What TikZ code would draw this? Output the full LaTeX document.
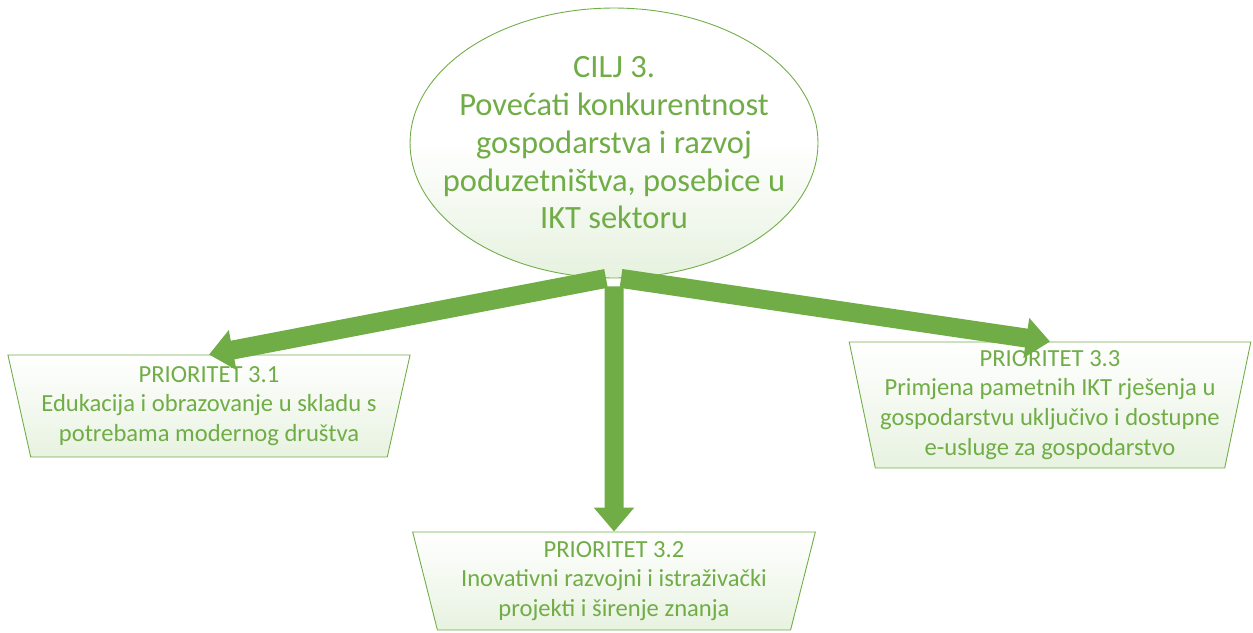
\documentclass[tikz,border=0pt]{standalone}
\usepackage{fontspec}
\setmainfont{Carlito}
\usetikzlibrary{shapes.geometric,arrows.meta}
\definecolor{leafgreen}{RGB}{112,173,71}
\definecolor{palegreen}{RGB}{226,239,217}

\begin{document}
\begin{tikzpicture}[x=0.02cm, y=-0.02cm,
  goal/.style={ellipse, draw=leafgreen, line width=0.5pt, top color=white, bottom color=palegreen!85, middle color=white, minimum width=8.16cm, minimum height=5.4cm, inner xsep=-0.54cm, inner ysep=0pt, align=center, text=leafgreen, font=\fontsize{18.5}{21.5}\selectfont},
  priority/.style={trapezium, trapezium stretches=true, shape border rotate=180, trapezium angle=75, draw=leafgreen, line width=0.5pt, top color=white, bottom color=palegreen!80, minimum width=8.06cm, minimum height=2.04cm, inner sep=0pt, align=center, text=leafgreen, font=\fontsize{14}{17}\selectfont},
  flow/.style={-{Triangle[width=0.78cm, length=0.48cm]}, line width=0.38cm, leafgreen},
]
\useasboundingbox (0,0) rectangle (1253,632);

% Goal
\node[goal] (goal) at (614,143) {CILJ 3.\\Povećati konkurentnost\\gospodarstva i razvoj\\poduzetništva, posebice u\\IKT sektoru};

% Priorities
\node[priority] (p1) at (209,406) {PRIORITET 3.1\\Edukacija i obrazovanje u skladu s\\potrebama modernog društva};
\node[priority, minimum height=1.96cm] (p2) at (614,581) {PRIORITET 3.2\\Inovativni razvojni i istraživački\\projekti i širenje znanja};
\node[priority, minimum height=2.52cm, trapezium angle=77] (p3) at (1050,405) {PRIORITET 3.3\\Primjena pametnih IKT rješenja u\\gospodarstvu uključivo i dostupne\\e-usluge za gospodarstvo};

% Arrows
\draw[flow] ([xshift=-0.16cm]goal.south) -- (p1.north);
\draw[flow] ([yshift=-0.16cm]goal.south) -- (p2.north);
\draw[flow] ([xshift=0.14cm]goal.south) -- (p3.north);
\end{tikzpicture}
\end{document}
